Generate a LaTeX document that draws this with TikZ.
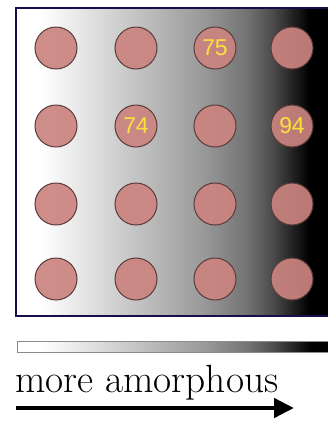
\documentclass[tikz,border=0pt]{standalone}
\usepackage{fontspec}
\newfontfamily\numfont{Liberation Sans}
\usetikzlibrary{arrows.meta}
\pgfdeclarehorizontalshading{amorph}{100bp}{color(0bp)=(white); color(25bp)=(white); color(29bp)=(white); color(42bp)=(black!20); color(55bp)=(black!40); color(62bp)=(black!55); color(66bp)=(black!70); color(69bp)=(black!85); color(72bp)=(black); color(75bp)=(black); color(100bp)=(black)}
\definecolor{bille}{RGB}{203,132,128}
\definecolor{cadre}{RGB}{20,15,70}
\definecolor{chiffre}{RGB}{250,225,60}
\tikzset{
  bille/.style={circle, minimum size=42bp, inner sep=0pt, fill=bille, fill opacity=0.92, draw=black!55!bille, line width=1bp},
  chiffre/.style={text=chiffre, font=\numfont\fontsize{23}{23}\selectfont},
}
\begin{document}
\begin{tikzpicture}[x=1bp,y=-1bp]
  \useasboundingbox (0,0) rectangle (328,422);
  % fond en degrade
  \shade[shading=amorph] (16,8) rectangle (328,316);
  \draw[cadre, line width=1.6bp] (328,8) -- (16,8) -- (16,316) -- (328,316);
  % billes
  \foreach \i/\x in {1/56,2/136,3/215,4/292}
    \foreach \j/\y in {1/48,2/126,3/204,4/279}
      \node[bille] (b\i\j) at (\x,\y) {};
  \node[chiffre] at (b31) {75};
  \node[chiffre] at (b22) {74};
  \node[chiffre] at (b42) {94};
  % barre
  \shade[shading=amorph, draw=black!45, line width=0.8bp] (17,341) rectangle (330,352);
  \node[anchor=base west, inner sep=0pt, font=\fontsize{39.5}{39.5}\selectfont] (txt) at (15,392) {more amorphous};
  % fleche
  \coordinate (dep) at (16,408);
  \coordinate (arr) at (294,408);
  \draw[line width=4.5bp, -{Triangle[length=20bp,width=19bp]}] (dep) -- (arr);
\end{tikzpicture}
\end{document}
